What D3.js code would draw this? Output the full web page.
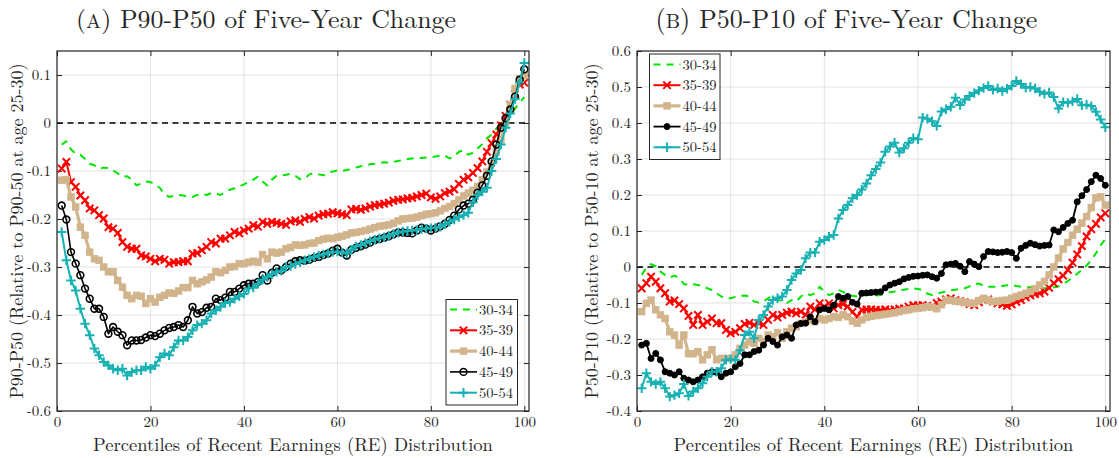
<!DOCTYPE html>
<html><head><meta charset="utf-8">
<script src="https://cdn.jsdelivr.net/npm/d3@7/dist/d3.min.js"></script>
<style>
body{margin:0;background:#fff}
svg{display:block}
</style>
</head><body>
<svg id="c" width="1119" height="458"></svg>
<script>
// ---------------- data ----------------
const percentiles = d3.range(1, 101);
const groups = ["30-34", "35-39", "40-44", "45-49", "50-54"];
const xTicks = [0, 20, 40, 60, 80, 100];
const yTicksA = [-0.6, -0.5, -0.4, -0.3, -0.2, -0.1, 0, 0.1];
const yTicksB = [-0.4, -0.3, -0.2, -0.1, 0, 0.1, 0.2, 0.3, 0.4, 0.5, 0.6];
const titleA = ["(", "A", ") P90-P50 of Five-Year Change"];
const titleB = ["(", "B", ") P50-P10 of Five-Year Change"];
const xLabel = "Percentiles of Recent Earnings (RE) Distribution";
const yLabelA = "P90-P50 (Relative to P90-50 at age 25-30)";
const yLabelB = "P50-P10 (Relative to P50-10 at age 25-30)";

// Panel A: P90-P50
const A30 = [-0.045,-0.038,-0.055,-0.064,-0.066,-0.075,-0.085,-0.088,-0.095,-0.093,
 -0.094,-0.099,-0.105,-0.112,-0.111,-0.118,-0.130,-0.126,-0.122,-0.123,
 -0.128,-0.135,-0.148,-0.154,-0.152,-0.150,-0.151,-0.153,-0.154,-0.150,
 -0.148,-0.150,-0.146,-0.147,-0.150,-0.144,-0.139,-0.136,-0.132,-0.128,
 -0.123,-0.118,-0.112,-0.122,-0.130,-0.118,-0.110,-0.109,-0.108,-0.106,
 -0.110,-0.117,-0.116,-0.107,-0.104,-0.107,-0.109,-0.105,-0.101,-0.099,
 -0.100,-0.098,-0.096,-0.093,-0.090,-0.088,-0.086,-0.085,-0.083,-0.082,
 -0.083,-0.081,-0.079,-0.077,-0.075,-0.074,-0.073,-0.073,-0.072,-0.071,
 -0.070,-0.068,-0.068,-0.074,-0.070,-0.060,-0.057,-0.066,-0.062,-0.053,
 -0.044,-0.032,-0.024,-0.012,0.000,0.010,0.018,0.030,0.042,0.054];
const A35 = [-0.095,-0.081,-0.123,-0.133,-0.151,-0.161,-0.178,-0.182,-0.192,-0.199,
 -0.217,-0.220,-0.229,-0.248,-0.258,-0.262,-0.262,-0.276,-0.278,-0.283,
 -0.288,-0.283,-0.285,-0.293,-0.290,-0.290,-0.288,-0.288,-0.272,-0.271,
 -0.265,-0.258,-0.248,-0.251,-0.241,-0.241,-0.234,-0.227,-0.230,-0.224,
 -0.220,-0.213,-0.216,-0.206,-0.210,-0.206,-0.208,-0.210,-0.212,-0.205,
 -0.203,-0.206,-0.200,-0.196,-0.199,-0.193,-0.190,-0.189,-0.186,-0.188,
 -0.190,-0.192,-0.180,-0.179,-0.181,-0.178,-0.174,-0.171,-0.170,-0.168,
 -0.166,-0.162,-0.160,-0.159,-0.157,-0.156,-0.153,-0.150,-0.147,-0.155,
 -0.158,-0.153,-0.146,-0.143,-0.138,-0.127,-0.118,-0.113,-0.104,-0.094,
 -0.080,-0.060,-0.042,-0.024,-0.005,0.015,0.038,0.060,0.080,0.084];
const A40 = [-0.119,-0.118,-0.154,-0.175,-0.217,-0.234,-0.269,-0.283,-0.286,-0.300,
 -0.310,-0.310,-0.328,-0.342,-0.359,-0.366,-0.359,-0.361,-0.376,-0.366,
 -0.373,-0.363,-0.359,-0.354,-0.355,-0.350,-0.343,-0.343,-0.328,-0.335,
 -0.331,-0.327,-0.321,-0.310,-0.312,-0.307,-0.300,-0.299,-0.293,-0.293,
 -0.290,-0.288,-0.290,-0.274,-0.283,-0.269,-0.271,-0.269,-0.262,-0.259,
 -0.254,-0.255,-0.254,-0.251,-0.250,-0.245,-0.242,-0.240,-0.241,-0.238,
 -0.236,-0.233,-0.229,-0.228,-0.226,-0.224,-0.221,-0.218,-0.215,-0.214,
 -0.212,-0.209,-0.204,-0.200,-0.199,-0.198,-0.196,-0.193,-0.190,-0.189,
 -0.187,-0.183,-0.178,-0.174,-0.168,-0.160,-0.152,-0.146,-0.140,-0.132,
 -0.118,-0.102,-0.084,-0.060,-0.035,-0.002,0.038,0.072,0.092,0.099];
const A45 = [-0.172,-0.201,-0.269,-0.293,-0.317,-0.345,-0.366,-0.387,-0.387,-0.404,
 -0.439,-0.425,-0.435,-0.442,-0.463,-0.453,-0.453,-0.452,-0.447,-0.442,
 -0.444,-0.439,-0.432,-0.427,-0.425,-0.421,-0.425,-0.411,-0.383,-0.397,
 -0.394,-0.385,-0.383,-0.366,-0.369,-0.364,-0.352,-0.352,-0.345,-0.338,
 -0.335,-0.335,-0.331,-0.317,-0.328,-0.312,-0.303,-0.307,-0.300,-0.293,
 -0.288,-0.286,-0.287,-0.285,-0.281,-0.279,-0.275,-0.272,-0.266,-0.262,
 -0.270,-0.276,-0.264,-0.260,-0.257,-0.253,-0.249,-0.244,-0.242,-0.239,
 -0.236,-0.232,-0.228,-0.228,-0.229,-0.230,-0.224,-0.218,-0.220,-0.224,
 -0.220,-0.215,-0.210,-0.202,-0.193,-0.180,-0.172,-0.168,-0.160,-0.145,
 -0.130,-0.110,-0.080,-0.045,-0.010,0.010,0.028,0.055,0.090,0.112];
const A50 = [-0.227,-0.286,-0.328,-0.349,-0.387,-0.418,-0.442,-0.470,-0.484,-0.498,
 -0.505,-0.512,-0.515,-0.512,-0.526,-0.519,-0.515,-0.515,-0.508,-0.512,
 -0.505,-0.488,-0.480,-0.484,-0.467,-0.453,-0.453,-0.446,-0.432,-0.421,
 -0.418,-0.411,-0.397,-0.390,-0.383,-0.375,-0.373,-0.366,-0.361,-0.356,
 -0.345,-0.343,-0.335,-0.326,-0.321,-0.315,-0.310,-0.308,-0.300,-0.298,
 -0.294,-0.290,-0.286,-0.283,-0.279,-0.276,-0.274,-0.271,-0.269,-0.268,
 -0.270,-0.272,-0.264,-0.257,-0.254,-0.250,-0.246,-0.243,-0.240,-0.238,
 -0.235,-0.231,-0.228,-0.226,-0.225,-0.224,-0.223,-0.221,-0.220,-0.219,
 -0.218,-0.216,-0.211,-0.206,-0.201,-0.196,-0.192,-0.187,-0.165,-0.150,
 -0.143,-0.135,-0.100,-0.075,-0.045,-0.010,0.020,0.050,0.085,0.125];

// Panel B: P50-P10
const B30 = [-0.022,-0.002,0.008,0.002,-0.013,-0.022,-0.029,-0.024,-0.031,-0.047,
 -0.050,-0.048,-0.050,-0.053,-0.059,-0.064,-0.073,-0.082,-0.087,-0.087,
 -0.083,-0.080,-0.079,-0.082,-0.096,-0.099,-0.096,-0.087,-0.078,-0.090,
 -0.096,-0.100,-0.092,-0.096,-0.082,-0.073,-0.078,-0.073,-0.055,-0.069,
 -0.078,-0.073,-0.064,-0.069,-0.078,-0.080,-0.082,-0.080,-0.078,-0.078,
 -0.079,-0.078,-0.074,-0.070,-0.068,-0.065,-0.063,-0.061,-0.059,-0.061,
 -0.064,-0.074,-0.078,-0.074,-0.071,-0.068,-0.065,-0.063,-0.061,-0.059,
 -0.054,-0.047,-0.046,-0.052,-0.055,-0.055,-0.055,-0.053,-0.051,-0.050,
 -0.053,-0.055,-0.056,-0.056,-0.056,-0.058,-0.059,-0.058,-0.056,-0.054,
 -0.047,-0.039,-0.030,-0.019,-0.008,0.004,0.020,0.038,0.060,0.078];
const B35 = [-0.059,-0.045,-0.027,-0.041,-0.059,-0.073,-0.096,-0.093,-0.103,-0.115,
 -0.136,-0.161,-0.133,-0.161,-0.152,-0.143,-0.156,-0.156,-0.175,-0.184,
 -0.180,-0.170,-0.158,-0.155,-0.161,-0.156,-0.161,-0.147,-0.133,-0.140,
 -0.133,-0.127,-0.124,-0.129,-0.124,-0.133,-0.110,-0.118,-0.101,-0.110,
 -0.101,-0.115,-0.106,-0.103,-0.110,-0.125,-0.138,-0.119,-0.118,-0.118,
 -0.119,-0.120,-0.118,-0.120,-0.118,-0.116,-0.115,-0.110,-0.106,-0.107,
 -0.106,-0.108,-0.110,-0.100,-0.096,-0.090,-0.087,-0.092,-0.095,-0.098,
 -0.103,-0.106,-0.098,-0.092,-0.090,-0.096,-0.101,-0.104,-0.108,-0.104,
 -0.097,-0.092,-0.084,-0.079,-0.075,-0.073,-0.068,-0.058,-0.045,-0.034,
 -0.024,-0.008,0.012,0.035,0.058,0.085,0.105,0.120,0.138,0.149];
const B40 = [-0.124,-0.101,-0.092,-0.119,-0.133,-0.143,-0.180,-0.189,-0.217,-0.189,
 -0.241,-0.241,-0.235,-0.258,-0.244,-0.230,-0.258,-0.254,-0.254,-0.254,
 -0.244,-0.226,-0.217,-0.208,-0.212,-0.198,-0.208,-0.189,-0.194,-0.182,
 -0.198,-0.180,-0.170,-0.166,-0.157,-0.152,-0.148,-0.152,-0.143,-0.147,
 -0.143,-0.138,-0.140,-0.133,-0.138,-0.150,-0.156,-0.147,-0.140,-0.137,
 -0.135,-0.133,-0.131,-0.129,-0.127,-0.124,-0.121,-0.119,-0.116,-0.115,
 -0.113,-0.110,-0.112,-0.116,-0.105,-0.092,-0.093,-0.095,-0.096,-0.098,
 -0.100,-0.101,-0.093,-0.087,-0.092,-0.096,-0.095,-0.093,-0.092,-0.087,
 -0.082,-0.078,-0.073,-0.068,-0.060,-0.050,-0.040,-0.022,0.000,0.025,
 0.050,0.068,0.088,0.105,0.122,0.140,0.165,0.192,0.195,0.172];
const B45 = [-0.217,-0.212,-0.254,-0.240,-0.258,-0.291,-0.295,-0.300,-0.291,-0.309,
 -0.314,-0.319,-0.314,-0.305,-0.295,-0.291,-0.293,-0.305,-0.295,-0.291,
 -0.277,-0.268,-0.244,-0.244,-0.235,-0.231,-0.217,-0.198,-0.207,-0.217,
 -0.194,-0.189,-0.198,-0.161,-0.157,-0.156,-0.138,-0.152,-0.119,-0.115,
 -0.119,-0.106,-0.082,-0.087,-0.082,-0.098,-0.103,-0.073,-0.072,-0.071,
 -0.070,-0.069,-0.058,-0.050,-0.045,-0.041,-0.033,-0.029,-0.026,-0.025,
 -0.023,-0.022,-0.027,-0.031,-0.018,0.006,0.008,0.010,0.002,-0.013,
 0.015,0.008,0.001,0.029,0.043,0.042,0.040,0.041,0.043,0.040,
 0.024,0.052,0.060,0.066,0.062,0.058,0.060,0.061,0.103,0.098,
 0.110,0.121,0.130,0.181,0.198,0.215,0.237,0.255,0.246,0.227];
const B50 = [-0.337,-0.295,-0.319,-0.325,-0.319,-0.337,-0.360,-0.356,-0.351,-0.325,
 -0.358,-0.346,-0.337,-0.323,-0.305,-0.291,-0.291,-0.281,-0.258,-0.256,
 -0.258,-0.231,-0.189,-0.180,-0.198,-0.147,-0.133,-0.110,-0.092,-0.087,
 -0.082,-0.064,-0.036,-0.018,-0.008,0.024,0.040,0.040,0.070,0.075,
 0.084,0.089,0.135,0.158,0.172,0.191,0.200,0.215,0.232,0.255,
 0.272,0.290,0.320,0.335,0.345,0.318,0.330,0.345,0.358,0.355,
 0.415,0.412,0.405,0.392,0.432,0.438,0.445,0.470,0.450,0.465,
 0.475,0.483,0.490,0.497,0.503,0.492,0.496,0.489,0.495,0.503,
 0.517,0.508,0.498,0.500,0.496,0.487,0.481,0.485,0.472,0.440,
 0.458,0.456,0.460,0.467,0.449,0.451,0.447,0.431,0.410,0.388];

// ---------------- font detection ----------------
const svg = d3.select("#c");
function detectFont(cands){
  const probe = svg.append("text").attr("x",-9999).attr("y",-9999).attr("font-size",40)
    .text("Percentiles of Recent Earnings 0123456789 WMil");
  const w = f => { probe.attr("font-family", f); return probe.node().getComputedTextLength(); };
  const bases = ["monospace","sans-serif","cursive"];
  const bw = bases.map(w);
  let found = null;
  for(const c of cands){
    const q = `"${c}"`;
    if(bases.some((b,i)=>Math.abs(w(`${q},${b}`)-bw[i])>0.5)){ found = q; break; }
  }
  probe.remove();
  return found;
}
const serifFont = detectFont(["Latin Modern Roman","CMU Serif","Liberation Serif","Times New Roman","Tinos",
  "Nimbus Roman","Nimbus Roman No9 L","FreeSerif","DejaVu Serif","Noto Serif","Noto Serif CJK SC","Noto Serif CJK JP"]);
const FONT = (serifFont ? serifFont + "," : "") + "serif";

// ---------------- styles ----------------
const styleA = [
  {color:"#00e600", width:2, dash:"7,6", marker:null},
  {color:"#ff0000", width:2, dash:null, marker:"x"},
  {color:"#d2b48c", width:3.2, dash:null, marker:"square"},
  {color:"#000000", width:1.6, dash:null, marker:"circleOpen"},
  {color:"#17b1b3", width:2, dash:null, marker:"plus"}
];
const styleB = [
  {color:"#00e600", width:2, dash:"7,6", marker:null},
  {color:"#ff0000", width:2, dash:null, marker:"x"},
  {color:"#d2b48c", width:3.2, dash:null, marker:"square"},
  {color:"#000000", width:1.8, dash:null, marker:"circleFilled"},
  {color:"#17b1b3", width:2, dash:null, marker:"plus"}
];

svg.insert("rect",":first-child").attr("width",1119).attr("height",458).attr("fill","#fff");

function drawMarker(g, type, x, y, color){
  if(type==="x"){
    const s=3.7;
    g.append("path").attr("d",`M${x-s},${y-s}L${x+s},${y+s}M${x-s},${y+s}L${x+s},${y-s}`)
      .attr("stroke",color).attr("stroke-width",2).attr("fill","none");
  } else if(type==="plus"){
    const s=4.7;
    g.append("path").attr("d",`M${x-s},${y}L${x+s},${y}M${x},${y-s}L${x},${y+s}`)
      .attr("stroke",color).attr("stroke-width",2).attr("fill","none");
  } else if(type==="square"){
    const s=3.2;
    g.append("rect").attr("x",x-s).attr("y",y-s).attr("width",2*s).attr("height",2*s)
      .attr("fill",color).attr("stroke",color).attr("stroke-width",1);
  } else if(type==="circleOpen"){
    g.append("circle").attr("cx",x).attr("cy",y).attr("r",3.4)
      .attr("fill","none").attr("stroke",color).attr("stroke-width",1.6);
  } else if(type==="circleFilled"){
    g.append("circle").attr("cx",x).attr("cy",y).attr("r",3)
      .attr("fill",color).attr("stroke",color).attr("stroke-width",1);
  }
}

function fitText(sel, target){
  const w = sel.node().getComputedTextLength();
  const fs = parseFloat(sel.attr("font-size"));
  sel.attr("font-size", (fs*target/w).toFixed(2));
}

function panel(opts){
  const {x0,x1,y0,y1,yDomain,yTicks,series,styles,title,titleCx,titleW,yLabel,yLabX,legend} = opts;
  const x = d3.scaleLinear().domain([0,101]).range([x0,x1]);
  const y = d3.scaleLinear().domain(yDomain).range([y1,y0]);
  const g = svg.append("g");

  // grid
  g.append("g").selectAll("line").data(xTicks).join("line")
    .attr("x1",d=>x(d)).attr("x2",d=>x(d)).attr("y1",y0).attr("y2",y1)
    .attr("stroke","#e3e3e3").attr("stroke-width",1);
  g.append("g").selectAll("line").data(yTicks).join("line")
    .attr("x1",x0).attr("x2",x1).attr("y1",d=>y(d)).attr("y2",d=>y(d))
    .attr("stroke","#e3e3e3").attr("stroke-width",1);

  const fmt = d => (d===0 ? "0" : d3.format(".1f")(d).replace("\u2212","-"));
  const axB = g.append("g").attr("transform",`translate(0,${y1})`)
    .call(d3.axisBottom(x).tickValues(xTicks).tickSize(-5).tickPadding(6).tickFormat(d3.format("d")));
  const axL = g.append("g").attr("transform",`translate(${x0},0)`)
    .call(d3.axisLeft(y).tickValues(yTicks).tickSize(-5).tickPadding(6).tickFormat(fmt));
  const axT = g.append("g").attr("transform",`translate(0,${y0})`)
    .call(d3.axisTop(x).tickValues(xTicks).tickSize(-5).tickFormat(""));
  const axR = g.append("g").attr("transform",`translate(${x1},0)`)
    .call(d3.axisRight(y).tickValues(yTicks).tickSize(-5).tickFormat(""));
  [axB,axL,axT,axR].forEach(a=>{
    a.attr("font-family",FONT);
    a.select(".domain").remove();
    a.selectAll("line").attr("stroke","#262626");
    a.selectAll("text").attr("font-family",FONT).attr("font-size",15).attr("fill","#262626");
  });
  axB.selectAll("text").attr("dy","0.68em");

  // zero line
  g.append("line").attr("x1",x0).attr("x2",x1).attr("y1",y(0)).attr("y2",y(0))
    .attr("stroke","#000").attr("stroke-width",1.5).attr("stroke-dasharray","6,4.5");

  // series
  const line = d3.line().x((d,i)=>x(percentiles[i])).y(d=>y(d));
  series.forEach((s,k)=>{
    const st = styles[k];
    const sg = g.append("g");
    sg.append("path").datum(s).attr("d",line).attr("fill","none")
      .attr("stroke",st.color).attr("stroke-width",st.width)
      .attr("stroke-dasharray",st.dash).attr("stroke-linejoin","round");
    if(st.marker) s.forEach((v,i)=>drawMarker(sg, st.marker, x(percentiles[i]), y(v), st.color));
  });

  // box
  g.append("rect").attr("x",x0).attr("y",y0).attr("width",x1-x0).attr("height",y1-y0)
    .attr("fill","none").attr("stroke","#262626").attr("stroke-width",1.2);

  // legend
  const L = legend;
  g.append("rect").attr("x",L.x).attr("y",L.y).attr("width",L.w).attr("height",L.h)
    .attr("fill","#fff").attr("stroke","#262626").attr("stroke-width",1);
  groups.forEach((name,k)=>{
    const st = styles[k];
    const cy = L.y + L.first + k*L.step;
    const lx0 = L.x+4, lx1 = L.x+31;
    g.append("line").attr("x1",lx0).attr("x2",lx1).attr("y1",cy).attr("y2",cy)
      .attr("stroke",st.color).attr("stroke-width",st.width).attr("stroke-dasharray",st.dash);
    if(st.marker) drawMarker(g, st.marker, (lx0+lx1)/2, cy, st.color);
    const tx = g.append("text").attr("x",lx1+2).attr("y",cy).attr("dy","0.35em")
      .attr("font-family",FONT).attr("font-size",14).attr("fill","#262626").text(name);
    fitText(tx, 34);
  });

  // title
  const t = svg.append("text").attr("x",titleCx).attr("y",28).attr("text-anchor","middle")
    .attr("font-family",FONT).attr("font-size",24).attr("fill","#262626");
  t.append("tspan").text(title[0]);
  t.append("tspan").attr("font-size","0.78em").text(title[1]);
  t.append("tspan").text(title[2]);
  fitText(t, titleW);

  // x label
  const xl = svg.append("text").attr("x",(x0+x1)/2).attr("y",451).attr("text-anchor","middle")
    .attr("font-family",FONT).attr("font-size",18).attr("fill","#262626").text(xLabel);
  fitText(xl, 400);

  // y label
  const yl = svg.append("text").attr("transform",`translate(${yLabX},${(y0+y1)/2}) rotate(-90)`)
    .attr("text-anchor","middle").attr("font-family",FONT).attr("font-size",16)
    .attr("fill","#262626").text(yLabel);
  fitText(yl, 335);
}

panel({x0:57, x1:529, y0:51, y1:411, yDomain:[-0.6,0.15], yTicks:yTicksA,
  series:[A30,A35,A40,A45,A50], styles:styleA, title:titleA, titleCx:266, titleW:380,
  yLabel:yLabelA, yLabX:23,
  legend:{x:446, y:299.5, w:71.5, h:105.5, first:10, step:20.8}});
panel({x0:637, x1:1110, y0:51, y1:411, yDomain:[-0.4,0.6], yTicks:yTicksB,
  series:[B30,B35,B40,B45,B50], styles:styleB, title:titleB, titleCx:846.5, titleW:382,
  yLabel:yLabelB, yLabX:598,
  legend:{x:649.5, y:54, w:70.5, h:105.5, first:10.5, step:20.7}});
</script>
</body></html>
